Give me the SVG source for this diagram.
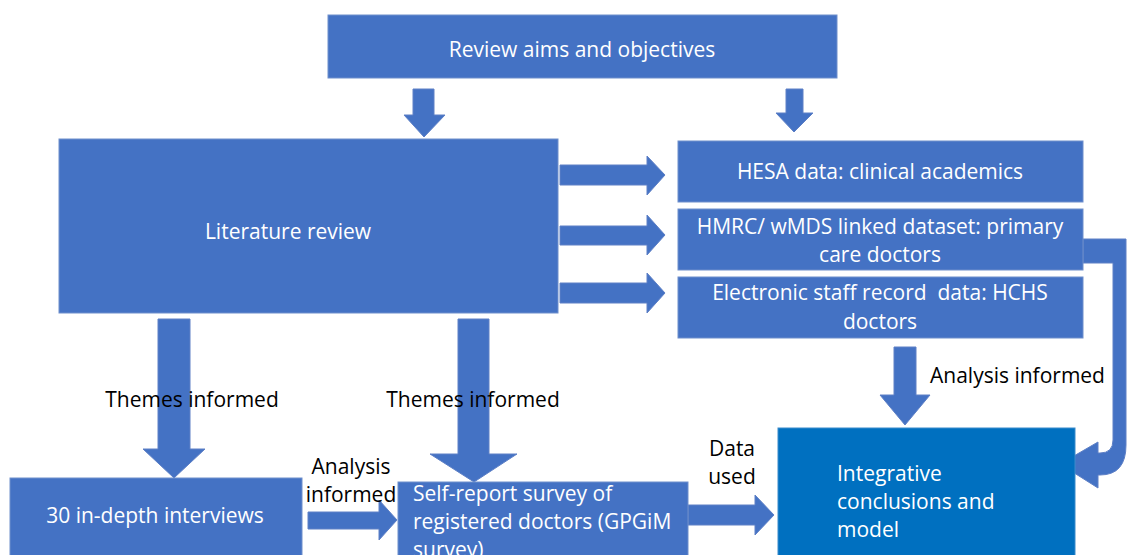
<svg xmlns="http://www.w3.org/2000/svg" width="1128" height="555" viewBox="0 0 1128 555">
<style>
.box{fill:#4472C4;stroke:#6F8FCC;stroke-width:1}
.dark{fill:#0070C0;stroke:#3A8BCB;stroke-width:1}
.arr{fill:#4472C4;stroke:#5E80C6;stroke-width:1}
.bt{font-family:"Open Sans","Noto Sans",sans-serif;font-size:21px;fill:#FFFFFF;white-space:pre}
.lt{font-family:"Open Sans","Noto Sans",sans-serif;font-size:21px;fill:#000000}
.c{text-anchor:middle}
</style>
<rect width="1128" height="555" fill="#FFFFFF"/>
<g id="connectors">
<polygon class="arr" points="413,89 434,89 434,115 445,115 424,137 404,115 413,115"/>
<polygon class="arr" points="786,89 803,89 803,113 813,113 794,132 776,113 786,113"/>
<polygon class="arr" points="560,165 647,165 647,156 665,175 647,195 647,185 560,185"/>
<polygon class="arr" points="560,226 647,226 647,215 665,235 647,255 647,245 560,245"/>
<polygon class="arr" points="560,283 647,283 647,273 665,293 647,313 647,303 560,303"/>
<polygon class="arr" points="158,319 190,319 190,449 205,449 174,478 143,449 158,449"/>
<polygon class="arr" points="458,319 489,319 489,454 517,454 474,482 430,454 458,454"/>
<polygon class="arr" points="894,347 916,347 916,395 930,395 905,425 880,395 894,395"/>
<polygon class="arr" points="308,512 379,512 379,500 397,520 379,540 379,529 308,529"/>
<polygon class="arr" points="688,505 755,505 755,495 774,515 755,535 755,525 688,525"/>
<path class="arr" d="M1083,239 L1126,239 L1126,445 Q1126,475 1100,475 L1098,475 L1098,488 L1060,464 L1098,442 L1098,453 L1100,453 Q1113,453 1113,440 L1113,263 L1083,263 Z"/>
</g>
<g id="review">
<rect class="box" x="328" y="15" width="509" height="63"/>
<text class="bt c" x="582" y="57">Review aims and objectives</text>
</g>
<g id="literature">
<rect class="box" x="59" y="139" width="499" height="174"/>
<text class="bt c" x="288" y="239">Literature review</text>
</g>
<g id="hesa">
<rect class="box" x="678" y="141" width="405" height="61"/>
<text class="bt c" x="880" y="179">HESA data: clinical academics</text>
</g>
<g id="hmrc">
<rect class="box" x="678" y="209" width="405" height="61"/>
<text class="bt c" x="880" y="234">HMRC/ wMDS linked dataset: primary</text>
<text class="bt c" x="880" y="262">care doctors</text>
</g>
<g id="esr">
<rect class="box" x="678" y="277" width="405" height="61"/>
<text class="bt c" x="880" y="300" xml:space="preserve">Electronic staff record  data: HCHS</text>
<text class="bt c" x="880" y="329">doctors</text>
</g>
<g id="interviews">
<rect class="box" x="10" y="478" width="292" height="90"/>
<text class="bt c" x="155" y="523">30 in-depth interviews</text>
</g>
<g id="survey">
<rect class="box" x="398" y="482" width="290" height="90"/>
<text class="bt" x="413" y="501">Self-report survey of</text>
<text class="bt" x="413" y="529">registered doctors (GPGiM</text>
<text class="bt" x="413" y="557">survey)</text>
</g>
<g id="integrative">
<rect class="dark" x="778" y="428" width="297" height="140"/>
<text class="bt" x="837" y="481">Integrative</text>
<text class="bt" x="837" y="509">conclusions and</text>
<text class="bt" x="837" y="537">model</text>
</g>
<g id="labels">
<text class="lt c" x="192" y="407">Themes informed</text>
<text class="lt c" x="473" y="407">Themes informed</text>
<text class="lt" x="930" y="383">Analysis informed</text>
<text class="lt c" x="351" y="474">Analysis</text>
<text class="lt c" x="351" y="502">informed</text>
<text class="lt c" x="732" y="456">Data</text>
<text class="lt c" x="732" y="484">used</text>
</g>
</svg>
